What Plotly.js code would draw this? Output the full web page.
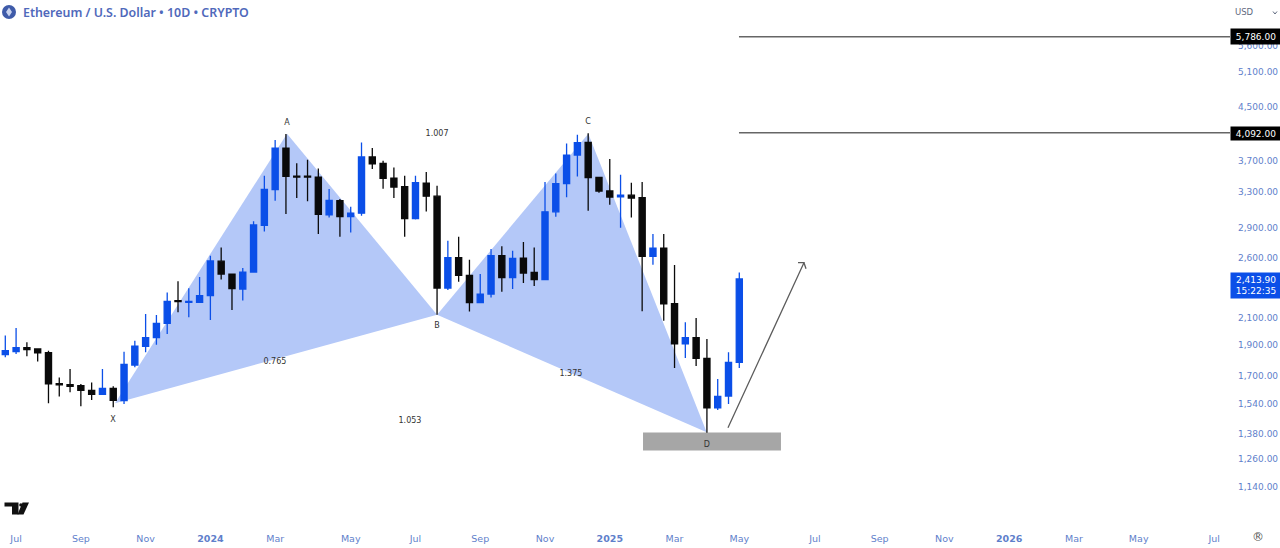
<!DOCTYPE html>
<html>
<head>
<meta charset="utf-8">
<script src="https://cdn.plot.ly/plotly-3.0.1.min.js"></script>
<style>html,body{margin:0;padding:0;background:#fff;overflow:hidden}#chart{width:1280px;height:548px}</style>
</head>
<body>
<div id="chart"></div>
<script>
// Candles (10-day bars, index 0 = late June 2023)
const open_ = [1837,1856,1883,1874,1850,1654,1648,1642,1614,1591,1626,1555,1768,1892,1953,2056,2232,2218,2218,2273,2573,2456,2327,2474,2928,3331,3871,3498,3498,3486,3043,3201,3022,3060,3748,3661,3474,3367,3000,3412,3254,2335,2605,2444,2216,2285,2624,2426,2602,2471,2408,3075,3404,3775,3951,3482,3315,3247,3266,3236,2618,2698,2208,1910,1953,1812,1515,1581,1785];
const high_ = [1967,2021,1920,1878,1863,1691,1743,1652,1661,1743,1638,1856,1931,2126,2118,2299,2394,2333,2431,2624,2704,2459,2510,2971,3503,3985,4072,3666,3712,3597,3339,3220,3133,3951,3871,3698,3610,3503,3503,3550,3379,2770,2811,2586,2456,2688,2716,2672,2757,2704,3426,3533,3937,4063,4082,3486,3721,3516,3416,3424,2838,2838,2537,2064,2096,1943,1681,1852,2471];
const low_  = [1819,1841,1826,1791,1541,1578,1603,1524,1559,1587,1519,1537,1754,1852,1903,1979,2139,2101,2213,2081,2408,2157,2232,2471,2865,3201,3050,3232,3194,2838,3014,2811,2855,3032,3588,3343,3232,2811,2992,3079,2121,2318,2390,2145,2210,2257,2304,2327,2378,2352,2402,3022,3240,3494,3087,3294,3155,2903,3014,2147,2541,2076,1750,1814,1762,1385,1504,1537,1750];
const close_= [1863,1883,1870,1848,1652,1646,1638,1614,1591,1626,1557,1773,1894,1953,2056,2226,2224,2226,2273,2576,2456,2330,2474,2932,3335,3871,3494,3486,3486,3047,3205,3022,3060,3748,3657,3470,3363,3000,3416,3254,2335,2605,2444,2216,2285,2624,2426,2599,2465,2408,3075,3404,3775,3947,3478,3315,3243,3266,3232,2618,2698,2205,1910,1953,1812,1515,1579,1785,2413.9];

// Harmonic pattern pivots
const xabcdIdx   = [10.16,26.1,40.0,54.01,64.98];
const xabcdPrice = [1540,4077,2121,4077,1387];

// Pattern labels
const labelText  = ['X','A','B','C','D','0.765','1.007','1.375','1.053'];
const labelIdx   = [9.98,26.1,40,53.98,65,24.98,40,52.4,37.49];
const labelPrice = [1452,4242,2038,4258,1327,1790,4077,1714,1447];

// Target levels, demand zone, forecast arrow
const targetPrices = [5786,4092];
const targetLabels = ['5,786.00','4,092.00'];
const targetStartIdx = 67.97;
const zoneIdx = [59.08,71.86];
const zonePrice = [1298.6,1386];
const arrowIdx = [66.95,73.99,73.44,73.99,74.18];
const arrowPrice = [1410,2559,2559,2559,2504];

// Axes
const yTicks = [1140,1260,1380,1540,1700,1900,2100,2600,2900,3300,3700,4500,5100,5600];
const yLabels = ['1,140.00','1,260.00','1,380.00','1,540.00','1,700.00','1,900.00','2,100.00','2,600.00','2,900.00','3,300.00','3,700.00','4,500.00','5,100.00','5,600.00'];
const xTicks = [1,7,13,19,25,32,38,44,50,56,62,68,75,81,87,93,99,105,112];
const xLabels = ['Jul','Sep','Nov','<b>2024</b>','Mar','May','Jul','Sep','Nov','<b>2025</b>','Mar','May','Jul','Sep','Nov','<b>2026</b>','Mar','May','Jul'];
const lastPriceText = '2,413.90<br>15:22:35';
const headerText = 'Ethereum / U.S. Dollar • 10D • CRYPTO';

const W = 1280, H = 548, R = 50, B = 26;
const px = x => x / (W - R);
const py = y => 1 - y / (H - B);
const FONT = '"DejaVu Sans", sans-serif';
const BLUE = '#0b4fe8', TICK = '#5f7fcb', FILL = '#b4c8f8';
const idx = open_.map((_, i) => i);
const tri = a => 'M' + a.map(i => xabcdIdx[i] + ' ' + xabcdPrice[i]).join(' L') + ' Z';
const ppath = pts => 'M' + pts.map(p => px(p[0]) + ' ' + py(p[1])).join(' L') + ' Z';

const traces = [
  { type:'candlestick', x:idx, open:open_, high:high_, low:low_, close:close_,
    whiskerwidth:0, hoverinfo:'skip',
    increasing:{line:{color:BLUE,width:1.3},fillcolor:BLUE},
    decreasing:{line:{color:'#0a0a0a',width:1.3},fillcolor:'#0a0a0a'} },
  { type:'scatter', mode:'lines', x:arrowIdx, y:arrowPrice, hoverinfo:'skip',
    line:{color:'#5c5c5c',width:1.3} },
  { type:'scatter', mode:'text', x:labelIdx, y:labelPrice, text:labelText, hoverinfo:'skip',
    textposition:'middle center', textfont:{family:FONT,size:8,color:'#333'} }
];

const shapes = [
  {type:'path', layer:'below', xref:'x', yref:'y', path:tri([0,1,2]), fillcolor:FILL, line:{width:0}},
  {type:'path', layer:'below', xref:'x', yref:'y', path:tri([2,3,4]), fillcolor:FILL, line:{width:0}},
  {type:'rect', layer:'below', xref:'x', yref:'y', x0:zoneIdx[0], x1:zoneIdx[1], y0:zonePrice[0], y1:zonePrice[1], fillcolor:'#a6a6a6', line:{width:0}},
  ...targetPrices.map(p => ({type:'line', xref:'x', yref:'y', x0:targetStartIdx, x1:113.46, y0:p, y1:p, line:{color:'#666',width:1.5}})),
  // header logo
  {type:'circle', xref:'paper', yref:'paper', x0:px(2), x1:px(16), y0:py(19), y1:py(5), fillcolor:'#3f5ba9', line:{width:0}},
  {type:'path', xref:'paper', yref:'paper', path:ppath([[9,7.5],[12,12],[9,16.5],[6,12]]), fillcolor:'#c8d2ee', line:{width:0}},
  // TV logo
  {type:'path', xref:'paper', yref:'paper', path:ppath([[4.5,502.5],[18.5,502.5],[18.5,514.5],[12,514.5],[12,506.5],[4.5,506.5]]), fillcolor:'#111', line:{width:0}},
  {type:'circle', xref:'paper', yref:'paper', x0:px(19.2), x1:px(22.6), y0:py(506.6), y1:py(503.2), fillcolor:'#111', line:{width:0}},
  {type:'path', xref:'paper', yref:'paper', path:ppath([[22.5,502.5],[29,502.5],[23.5,514.5],[17.5,514.5]]), fillcolor:'#111', line:{width:0}},
  // USD caret
  {type:'path', xref:'paper', yref:'paper', path:'M'+px(1273)+' '+py(11.5)+' L'+px(1275)+' '+py(14)+' L'+px(1277)+' '+py(11.5), line:{color:'#5f6a80',width:1}}
];

const boxLabel = (text, y, h, bg, color) => ({
  xref:'paper', yref:'paper', x:1, y:py(y), xanchor:'left', yanchor:'middle',
  text, showarrow:false, width:50, height:h, bgcolor:bg, borderpad:0, align:'center',
  font:{family:FONT,size:9,color}
});

const annotations = [
  {xref:'paper', yref:'paper', x:px(20.5), y:py(12.5), xanchor:'left', yanchor:'middle', showarrow:false,
   text:headerText, font:{family:'"Noto Sans", sans-serif',size:12.4,weight:600,color:'#5069bb'}},
  {xref:'paper', yref:'paper', x:px(1244.5), y:py(12.5), xanchor:'center', yanchor:'middle', showarrow:false,
   text:'USD', font:{family:FONT,size:8.5,color:'#5f6a80'}},
  {xref:'paper', yref:'paper', x:px(1258), y:py(537), xanchor:'center', yanchor:'middle', showarrow:false,
   text:'®', font:{family:FONT,size:12,color:'#555'}},
  boxLabel(targetLabels[0], 36.7, 15, '#000', '#fff'),
  boxLabel(targetLabels[1], 133.2, 13, '#000', '#fff'),
  boxLabel(lastPriceText, 285.5, 25, BLUE, '#fff')
];

const layout = {
  width:W, height:H, paper_bgcolor:'#fff', plot_bgcolor:'#fff', showlegend:false,
  margin:{l:0,r:R,t:0,b:B,pad:0}, boxgap:0.19, dragmode:false,
  xaxis:{type:'linear', range:[-0.491,113.46], rangeslider:{visible:false}, showgrid:false, zeroline:false, showline:false,
    ticks:'', tickmode:'array', tickvals:xTicks, ticktext:xLabels, ticklabelstandoff:9,
    tickfont:{family:FONT,size:9.5,color:TICK}},
  yaxis:{type:'log', side:'right', range:[3.0015,3.82], showgrid:false, zeroline:false, showline:false,
    ticks:'', tickmode:'array', tickvals:yTicks, ticktext:yLabels, ticklabelstandoff:7,
    tickfont:{family:FONT,size:9,color:TICK}},
  shapes, annotations
};

Plotly.newPlot('chart', traces, layout, {displayModeBar:false, staticPlot:true});
</script>
</body>
</html>
